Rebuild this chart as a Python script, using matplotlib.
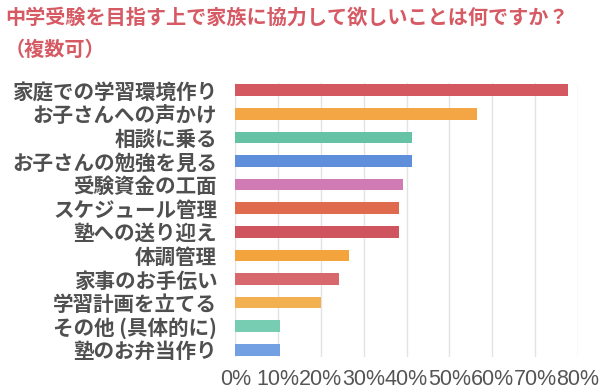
import matplotlib
matplotlib.use("Agg")
import matplotlib.pyplot as plt

plt.rcParams['font.family'] = ['Noto Sans CJK JP', 'DejaVu Sans']

title_line1 = "中学受験を目指す上で家族に協力して欲しいことは何ですか？"
title_line2 = "（複数可）"

categories = ["家庭での学習環境作り", "お子さんへの声かけ", "相談に乗る", "お子さんの勉強を見る",
              "受験資金の工面", "スケジュール管理", "塾への送り迎え", "体調管理",
              "家事のお手伝い", "学習計画を立てる", "その他 (具体的に)", "塾のお弁当作り"]
values = [77.6, 56.4, 41.4, 41.4, 39.2, 38.2, 38.2, 26.5, 24.3, 20.0, 10.5, 10.5]
colors = ["#d35860", "#f3a643", "#66c2a5", "#5f8fdb", "#d07bb3", "#df6a4d",
          "#d0545d", "#f3a43c", "#d6686e", "#f2b050", "#76cdb1", "#72a0e2"]
xticks = [0, 10, 20, 30, 40, 50, 60, 70, 80]
xticklabels = ["0%", "10%", "20%", "30%", "40%", "50%", "60%", "70%", "80%"]

fig = plt.figure(figsize=(6, 3.9), dpi=100)
ax = fig.add_axes([0.392, 0.085, 0.963 - 0.392, 0.787 - 0.085])

ypos = list(range(len(categories)))
ax.barh(ypos, values, height=0.49, color=colors, zorder=3)

ax.set_xlim(0, 80)
ax.set_ylim(len(categories) - 0.7, -0.3)
ax.set_xticks(xticks)
ax.set_xticklabels(xticklabels, fontfamily=['Liberation Sans'], fontsize=15.5, color='#555555')
ax.set_yticks(ypos)
ax.set_yticklabels(categories, fontsize=14.8, fontweight='bold', color='#4f4f4f')
ax.tick_params(axis='x', length=0, pad=9)
ax.tick_params(axis='y', length=0, pad=13)
for s in ax.spines.values():
    s.set_visible(False)
ax.grid(axis='x', color='#e3e3e3', linewidth=1, zorder=0)
ax.set_axisbelow(True)

fig.text(0.008, 0.955, title_line1, fontsize=14.5, fontweight='bold', color='#d65a64', va='center', ha='left')
fig.text(0.008, 0.873, title_line2, fontsize=14.5, fontweight='bold', color='#d65a64', va='center', ha='left')

fig.savefig("out.png", dpi=100)
